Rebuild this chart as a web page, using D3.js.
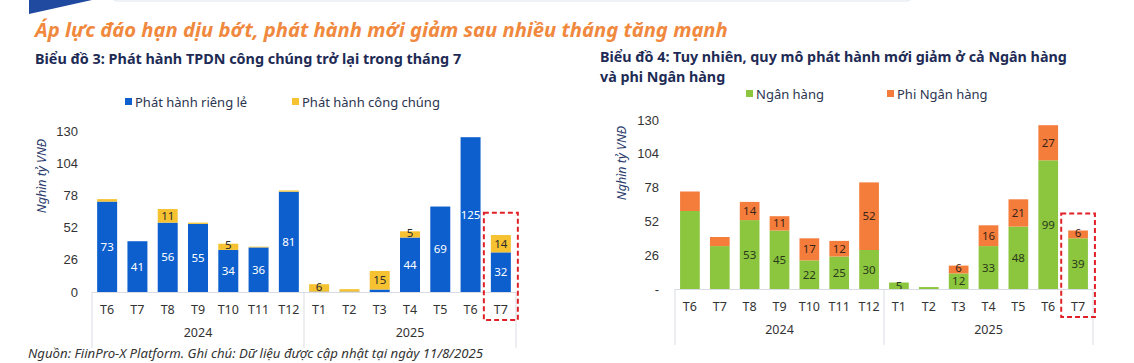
<!DOCTYPE html>
<html>
<head>
<meta charset="utf-8">
<script src="https://cdn.jsdelivr.net/npm/d3@7"></script>
<style>
  body { margin: 0; background: #fff; }
  svg { font-family: "Noto Sans", sans-serif; }
</style>
</head>
<body>
<svg id="chart" width="1134" height="363"></svg>
<script>
// Categories (month + year)
const months = ["T6", "T7", "T8", "T9", "T10", "T11", "T12", "T1", "T2", "T3", "T4", "T5", "T6", "T7"];
const years = ["2024", "2024", "2024", "2024", "2024", "2024", "2024", "2025", "2025", "2025", "2025", "2025", "2025", "2025"];
const yTicks = [0, 26, 52, 78, 104, 130];

// Chart 3: private vs public issuance
const privateIssue = [73, 41, 56, 55, 34, 36, 81, 0.3, 0.3, 2, 44, 69, 125, 32];
const publicIssue = [2, 0, 11, 1, 5, 0.6, 1, 6, 2, 15, 5, 0, 0, 14];

// Chart 4: bank vs non-bank issuance
const bankIssue = [60, 33, 53, 45, 22, 25, 30, 5, 1.5, 12, 33, 48, 99, 39];
const nonBankIssue = [15, 7, 14, 11, 17, 12, 52, 0, 0, 6, 16, 21, 27, 6];
const chart4HiddenLabels = [0, 1]; // months without value labels

const svg = d3.select("#chart");

// Header decoration
svg.append("rect")
  .attr("x", 112).attr("y", -12).attr("width", 800).attr("height", 13)
  .attr("rx", 5).attr("fill", "#fff").attr("stroke", "#dfe5ec");
svg.append("path")
  .attr("d", "M29,0 L92,0 L29,14 Z")
  .attr("fill", "#1f4aa0");

svg.append("text")
  .attr("x", 35).attr("y", 37)
  .attr("fill", "#f0883e")
  .style("font-size", "20.2px").style("font-weight", "bold").style("font-style", "italic")
  .text("Áp lực đáo hạn dịu bớt, phát hành mới giảm sau nhiều tháng tăng mạnh");

const titleColor = "#1e2b55";
svg.append("text")
  .attr("x", 35).attr("y", 64)
  .attr("fill", titleColor)
  .style("font-size", "14.4px").style("font-weight", "bold")
  .text("Biểu đồ 3: Phát hành TPDN công chúng trở lại trong tháng 7");
svg.append("text")
  .attr("x", 600).attr("y", 62)
  .attr("fill", titleColor)
  .style("font-size", "14.3px").style("font-weight", "bold")
  .text("Biểu đồ 4: Tuy nhiên, quy mô phát hành mới giảm ở cả Ngân hàng");
svg.append("text")
  .attr("x", 600).attr("y", 82)
  .attr("fill", titleColor)
  .style("font-size", "14.3px").style("font-weight", "bold")
  .text("và phi Ngân hàng");

svg.append("text")
  .attr("x", 28).attr("y", 358)
  .attr("fill", "#333")
  .style("font-size", "13.2px").style("font-style", "italic")
  .text("Nguồn: FiinPro-X Platform. Ghi chú: Dữ liệu được cập nhật tại ngày 11/8/2025");

function drawChart(cfg) {
  const keys = months.map((m, i) => years[i] + "-" + m + "-" + i);
  const rows = keys.map((k, i) => ({ key: k, a: cfg.a[i], b: cfg.b[i], i: i }));

  const x = d3.scaleBand().domain(keys).range([cfg.x0, cfg.x1]).paddingInner(0.34).paddingOuter(0.17);
  const y = d3.scaleLinear().domain([0, 130]).range([cfg.y0, cfg.y1]);

  const g = svg.append("g");

  // y axis (labels only)
  const yAxis = d3.axisLeft(y).tickValues(yTicks).tickSize(0).tickPadding(0)
    .tickFormat(cfg.tickFormat);
  const yG = g.append("g")
    .attr("transform", `translate(${cfg.tickX},0)`)
    .call(yAxis);
  yG.select(".domain").remove();
  yG.selectAll("text").attr("fill", "#333").style("font-size", "13px");

  g.append("text")
    .attr("transform", `translate(${cfg.labelX},${cfg.labelY}) rotate(-90)`)
    .attr("text-anchor", "middle")
    .attr("fill", "#2c3c6c")
    .style("font-size", "12.5px").style("font-style", "italic")
    .text("Nghìn tỷ VNĐ");

  // stacked bars
  const stack = d3.stack().keys(["a", "b"]);
  const series = stack(rows);
  const colors = [cfg.colorA, cfg.colorB];
  const textColors = [cfg.textA, cfg.textB];

  series.forEach((s, si) => {
    g.append("g").selectAll("rect")
      .data(s)
      .join("rect")
      .attr("x", d => x(d.data.key))
      .attr("width", x.bandwidth())
      .attr("y", d => y(d[1]))
      .attr("height", d => y(d[0]) - y(d[1]))
      .attr("fill", colors[si]);

    g.append("g").selectAll("text")
      .data(s.filter(d => (d[1] - d[0]) >= 4.5 && !(cfg.hidden || []).includes(d.data.i)))
      .join("text")
      .attr("x", d => x(d.data.key) + x.bandwidth() / 2)
      .attr("y", d => (y(d[0]) + y(d[1])) / 2 + (si === 1 && (d[1] - d[0]) < 8 ? -1.5 : 0))
      .attr("dy", "0.36em")
      .attr("text-anchor", "middle")
      .attr("fill", textColors[si])
      .style("font-size", "11.5px")
      .text(d => Math.round(d[1] - d[0]));
  });

  // category axis
  const axisColor = "#d9dde3";
  g.append("line")
    .attr("x1", cfg.x0).attr("x2", cfg.x1)
    .attr("y1", cfg.y0 + 0.5).attr("y2", cfg.y0 + 0.5)
    .attr("stroke", axisColor);

  const splitIdx = years.indexOf("2025");
  const step = x.step();
  const bandStart = i => x(keys[i]) - step * x.paddingInner() / 2;
  const seps = [cfg.x0, bandStart(splitIdx), cfg.x1];
  g.selectAll(".sep")
    .data(seps)
    .join("line")
    .attr("x1", d => d).attr("x2", d => d)
    .attr("y1", cfg.y0).attr("y2", cfg.y0 + 56)
    .attr("stroke", axisColor);

  g.append("g").selectAll("text")
    .data(rows)
    .join("text")
    .attr("x", d => x(d.key) + x.bandwidth() / 2)
    .attr("y", cfg.y0 + 17)
    .attr("dy", "0.36em")
    .attr("text-anchor", "middle")
    .attr("fill", "#333")
    .style("font-size", "12.5px")
    .text(d => months[d.i]);

  const yearGroups = d3.groups(rows, d => years[d.i]);
  g.append("g").selectAll("text")
    .data(yearGroups)
    .join("text")
    .attr("x", d => {
      const first = d[1][0].i, last = d[1][d[1].length - 1].i;
      return (bandStart(first) + bandStart(last) + step) / 2;
    })
    .attr("y", cfg.y0 + 40)
    .attr("dy", "0.36em")
    .attr("text-anchor", "middle")
    .attr("fill", "#333")
    .style("font-size", "12.5px")
    .text(d => d[0]);

  // highlight box around last month
  const lastKey = keys[keys.length - 1];
  g.append("rect")
    .attr("x", x(lastKey) - 7)
    .attr("y", y(cfg.boxTop))
    .attr("width", x.bandwidth() + 14)
    .attr("height", cfg.y0 + 28 - y(cfg.boxTop))
    .attr("fill", "none")
    .attr("stroke", "#e02027")
    .attr("stroke-width", 2)
    .attr("stroke-dasharray", "5,3");

  // legend
  cfg.legend.forEach((l, li) => {
    g.append("rect")
      .attr("x", l.x).attr("y", cfg.legendY - 4)
      .attr("width", 7).attr("height", 7)
      .attr("fill", colors[li]);
    g.append("text")
      .attr("x", l.x + 10).attr("y", cfg.legendY)
      .attr("dy", "0.36em")
      .attr("fill", "#2b3550")
      .style("font-size", "13px")
      .text(l.name);
  });
}

drawChart({
  a: privateIssue, b: publicIssue,
  x0: 92, x1: 516, y0: 292, y1: 131,
  tickX: 78, labelX: 46, labelY: 176,
  tickFormat: d => d,
  colorA: "#0d5fce", colorB: "#f6c232",
  textA: "#ffffff", textB: "#2a2a2a",
  boxTop: 64,
  legendY: 102,
  legend: [{ x: 125, name: "Phát hành riêng lẻ" }, { x: 292, name: "Phát hành công chúng" }]
});

drawChart({
  a: bankIssue, b: nonBankIssue,
  x0: 675, x1: 1093, y0: 289, y1: 120,
  tickX: 659, labelX: 626, labelY: 163,
  tickFormat: d => d === 0 ? "-" : d,
  colorA: "#8cc63e", colorB: "#f57d3b",
  textA: "#2a3a1a", textB: "#3a2418",
  hidden: chart4HiddenLabels,
  boxTop: 58,
  legendY: 94,
  legend: [{ x: 746, name: "Ngân hàng" }, { x: 887, name: "Phi Ngân hàng" }]
});
</script>
</body>
</html>
